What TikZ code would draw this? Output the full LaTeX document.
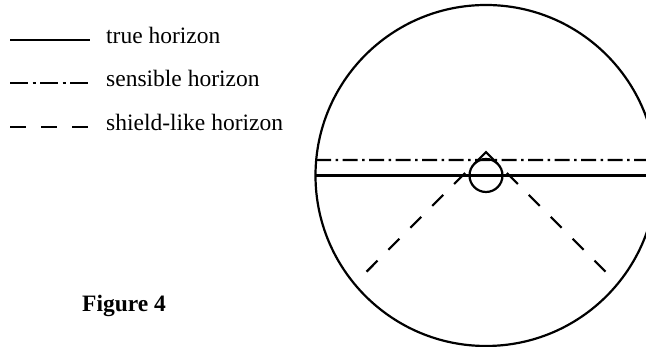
\documentclass[tikz,border=0pt]{standalone}
\usepackage{fontspec}
\setmainfont{Liberation Serif}
\usetikzlibrary{calc,positioning}
\tikzset{
  trueline/.style={line width=2.2pt,black},
  senseline/.style={line width=2.2pt,black,dash pattern=on 15pt off 4.5pt on 2.5pt off 4.5pt},
  shieldline/.style={line width=2.2pt,black,dash pattern=on 15.5pt off 15.5pt},
  legendtext/.style={anchor=base west,inner sep=0pt,font=\fontsize{23.5}{27}\selectfont},
  figtitle/.style={anchor=base west,inner sep=0pt,font=\fontsize{23.5}{27}\selectfont\bfseries}
}

\begin{document}
\begin{tikzpicture}[x=1pt,y=1pt]
  \useasboundingbox (0,0) rectangle (646,347);
  \clip (0,0) rectangle (646,347);
  \coordinate (O) at (486,171.5);
  \coordinate (A) at ($(O)+(0,23.3)$);
  \coordinate (TL) at ($(O)+(135:16.5)$);
  \coordinate (TR) at ($(O)+(45:16.5)$);
  \coordinate (BL) at ($(A)+(225:170)$);
  \coordinate (BR) at ($(A)+(-45:170)$);
  \coordinate (HL) at ($(O)+(180:170.5)$);
  \coordinate (HR) at (646,171.5);
  \coordinate (SL) at ($(O)+(174.8:170.5)$);
  \coordinate (SR) at (646,187);
  % sky sphere, horizons, observer
  \draw[trueline] (O) circle[radius=170.5];
  \draw[trueline] (HL) -- (HR);
  \draw[senseline] (SL) -- (SR);
  \draw[trueline] (O) circle[radius=16.5];
  \draw[trueline,line join=miter] (TL) -- (A) -- (TR);
  \draw[shieldline,dash phase=18pt] (TL) -- (BL);
  \draw[shieldline,dash phase=18pt] (TR) -- (BR);
  % legend
  \coordinate (k1a) at (10,307);
  \coordinate (k1b) at (90,307);
  \coordinate (k2a) at (10,264);
  \coordinate (k2b) at (90,264);
  \coordinate (k3a) at (10,220);
  \coordinate (k3b) at (90,220);
  \draw[trueline] (k1a) -- (k1b);
  \draw[senseline,dash pattern=on 18pt off 4.5pt on 3pt off 4.5pt] (k2a) -- (k2b);
  \draw[shieldline] (k3a) -- (k3b);
  \node[legendtext] (truelbl) at (106,303.5) {true horizon};
  \node[legendtext] (senselbl) at (106,260.5) {sensible horizon};
  \node[legendtext] (shieldlbl) at (106,216.5) {shield-like horizon};
  \node[figtitle] (figlbl) at (82,35.3) {Figure 4};
\end{tikzpicture}
\end{document}
